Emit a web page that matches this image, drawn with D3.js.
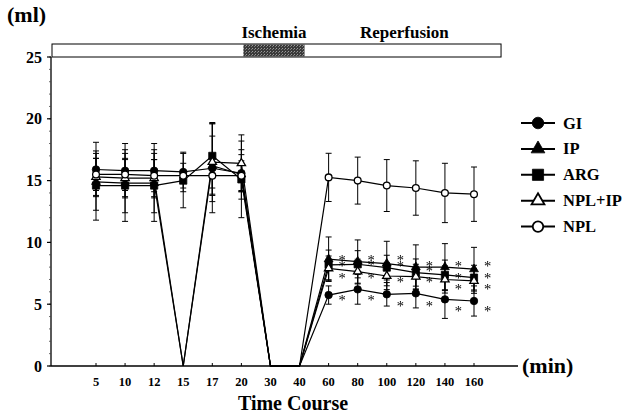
<!DOCTYPE html>
<html>
<head>
<meta charset="utf-8">
<script src="https://cdn.jsdelivr.net/npm/d3@7"></script>
<style>
  html, body { margin: 0; padding: 0; background: #fff; }
  svg { display: block; }
  text { font-family: "Liberation Serif", "Times New Roman", serif; fill: #000; }
  .bold { font-weight: bold; }
</style>
</head>
<body>
<svg id="chart" width="626" height="414"></svg>
<script>
// time points (min) and y ticks
const times = ['5', '10', '12', '15', '17', '20', '30', '40', '60', '80', '100', '120', '140', '160']
const yTicks = [0, 5, 10, 15, 20, 25]

// series: means and SD (0 = no measurement, line drops to zero)
const seriesNames = ['GI', 'IP', 'ARG', 'NPL+IP', 'NPL']
const giMean    = [15.9, 15.8, 15.8, 15.7, 16.0, 15.6, 0, 0, 5.74, 6.2, 5.8, 5.88, 5.39, 5.26]
const giSd      = [2.2, 2.2, 2.2, 1.6, 3.6, 1.5, 0, 0, 0.74, 1.2, 0.95, 1.18, 1.54, 1.22]
const ipMean    = [14.9, 14.8, 14.8, 0, 16.2, 15.5, 0, 0, 8.64, 8.45, 8.29, 8.0, 8.0, 7.83]
const ipSd      = [2.3, 2.4, 2.4, 0, 2.4, 2.0, 0, 0, 1.8, 1.75, 1.8, 1.8, 1.9, 1.77]
const argMean   = [14.6, 14.6, 14.6, 15.0, 17.0, 15.1, 0, 0, 8.18, 8.23, 7.96, 7.56, 7.37, 7.15]
const argSd     = [2.8, 2.9, 2.9, 2.2, 2.6, 3.1, 0, 0, 1.2, 1.1, 1.0, 1.1, 1.2, 1.0]
const nplIpMean = [15.3, 15.2, 15.2, 0, 16.5, 16.4, 0, 0, 7.9, 7.64, 7.28, 7.23, 7.0, 6.88]
const nplIpSd   = [1.5, 1.5, 1.5, 0, 3.2, 2.3, 0, 0, 1.0, 1.0, 1.1, 1.0, 1.1, 1.0]
const nplMean   = [15.5, 15.5, 15.4, 15.4, 15.4, 15.4, 0, 0, 15.26, 15.0, 14.6, 14.4, 14.0, 13.9]
const nplSd     = [1.3, 1.3, 1.3, 1.0, 1.5, 1.2, 0, 0, 1.95, 1.9, 2.1, 2.2, 2.4, 2.2]

// significance marks (*) next to each reperfusion time point
const starTimes  = ['60', '80', '100', '120', '140', '160']
const starLevels = [
    [8.72, 8.23, 7.28, 5.47],
    [8.72, 8.3, 7.28, 5.47],
    [8.72, 8.29, 6.93, 5.04],
    [8.29, 7.83, 6.93, 5.04],
    [8.23, 7.28, 6.39, 4.58],
    [8.23, 7.28, 6.39, 4.58]
]

const phaseLabels = ['Ischemia', 'Reperfusion']

const series = [
    { name: seriesNames[0], mean: giMean, sd: giSd, shape: d3.symbolCircle, fill: '#000' },
    { name: seriesNames[1], mean: ipMean, sd: ipSd, shape: d3.symbolTriangle, fill: '#000' },
    { name: seriesNames[2], mean: argMean, sd: argSd, shape: d3.symbolSquare, fill: '#000' },
    { name: seriesNames[3], mean: nplIpMean, sd: nplIpSd, shape: d3.symbolTriangle, fill: '#fff' },
    { name: seriesNames[4], mean: nplMean, sd: nplSd, shape: d3.symbolCircle, fill: '#fff' }
]

const markSize = s => s.shape === d3.symbolCircle ? (s.fill === '#fff' ? 36 : 44)
    : s.shape === d3.symbolSquare ? 52 : (s.fill === '#fff' ? 30 : 34)

const svg = d3.select('#chart')

const axisLeft = 51
const axisRight = 518

const x = d3.scalePoint().domain(times).range([96, 474])
const y = d3.scaleLinear().domain([0, 25]).range([366, 57])

// top phase bar
const step = x.step()
const barRight = x('160') + step * 0.93
svg.append('rect')
    .attr('x', axisLeft + 1).attr('y', y(25) - 13)
    .attr('width', barRight - axisLeft - 1).attr('height', 13)
    .attr('fill', '#fff').attr('stroke', '#000').attr('stroke-width', 1)

const defs = svg.append('defs')
const pat = defs.append('pattern')
    .attr('id', 'dither').attr('width', 3).attr('height', 3)
    .attr('patternUnits', 'userSpaceOnUse')
pat.append('rect').attr('width', 3).attr('height', 3).attr('fill', '#3a3a3a')
pat.append('rect').attr('x', 0).attr('y', 0).attr('width', 1).attr('height', 1).attr('fill', '#9a9a9a')
pat.append('rect').attr('x', 2).attr('y', 1).attr('width', 1).attr('height', 1).attr('fill', '#7a7a7a')

// plain offscreen filter, keeps the small asterisks grey-scale
defs.append('filter').attr('id', 'flat')
    .append('feOffset').attr('dx', 0).attr('dy', 0)

const ischL = x('20') + 2
const ischR = x('40') + 5
svg.append('rect')
    .attr('x', ischL).attr('y', y(25) - 12.5)
    .attr('width', ischR - ischL).attr('height', 12)
    .attr('fill', 'url(#dither)')

svg.append('text').attr('class', 'bold')
    .attr('x', (ischL + ischR) / 2).attr('y', 38)
    .attr('text-anchor', 'middle').style('font-size', '17px')
    .text(phaseLabels[0])

svg.append('text').attr('class', 'bold')
    .attr('x', (x('100') + x('120')) / 2 + 3).attr('y', 38)
    .attr('text-anchor', 'middle').style('font-size', '17px')
    .text(phaseLabels[1])

// axes
svg.append('line')
    .attr('x1', axisLeft).attr('x2', axisLeft)
    .attr('y1', y(25)).attr('y2', y(0))
    .attr('stroke', '#000').attr('stroke-width', 1.3)

svg.append('line')
    .attr('x1', axisLeft).attr('x2', axisRight)
    .attr('y1', y(0)).attr('y2', y(0))
    .attr('stroke', '#000').attr('stroke-width', 1.3)

svg.selectAll('.ymin')
    .data(d3.range(0, 25.01, 1))
    .enter()
    .append('line')
    .attr('x1', axisLeft - 2).attr('x2', axisLeft)
    .attr('y1', d => y(d)).attr('y2', d => y(d))
    .attr('stroke', '#444').attr('stroke-width', 0.8)

svg.selectAll('.ymaj')
    .data(yTicks)
    .enter()
    .append('line')
    .attr('x1', axisLeft - 4).attr('x2', axisLeft)
    .attr('y1', d => y(d)).attr('y2', d => y(d))
    .attr('stroke', '#000').attr('stroke-width', 1.2)

svg.selectAll('.ylab')
    .data(yTicks)
    .enter()
    .append('text').attr('class', 'bold')
    .attr('x', 42).attr('y', d => y(d) + 5.5)
    .attr('text-anchor', 'end').style('font-size', '16px')
    .text(d => d)

svg.selectAll('.xtick')
    .data(times)
    .enter()
    .append('line')
    .attr('x1', d => x(d)).attr('x2', d => x(d))
    .attr('y1', y(0) - 3).attr('y2', y(0))
    .attr('stroke', '#000').attr('stroke-width', 1)

svg.selectAll('.xlab')
    .data(times)
    .enter()
    .append('text').attr('class', 'bold')
    .attr('x', d => x(d)).attr('y', 386)
    .attr('text-anchor', 'middle').style('font-size', '12.5px')
    .text(d => d)

svg.append('text').attr('class', 'bold')
    .attr('x', 7).attr('y', 22).style('font-size', '22px')
    .text('(ml)')

svg.append('text').attr('class', 'bold')
    .attr('x', 522).attr('y', 373).style('font-size', '22px')
    .text('(min)')

svg.append('text').attr('class', 'bold')
    .attr('x', 293).attr('y', 410)
    .attr('text-anchor', 'middle').style('font-size', '20px')
    .text('Time Course')

// connecting lines
const line = d3.line()
    .x((d, i) => x(times[i]))
    .y(d => y(d))

series.forEach(s => {
    svg.append('path')
        .attr('d', line(s.mean))
        .attr('fill', 'none')
        .attr('stroke', '#000')
        .attr('stroke-width', 1.2)
})

// error bars
series.forEach(s => {
    const pts = s.mean.map((m, i) => ({ t: times[i], m: m, sd: s.sd[i] })).filter(p => p.m > 0)
    const g = svg.append('g').attr('stroke', '#000').attr('stroke-width', 1)
    pts.forEach(p => {
        const cx = x(p.t)
        g.append('line')
            .attr('x1', cx).attr('x2', cx)
            .attr('y1', y(p.m + p.sd)).attr('y2', y(p.m - p.sd))
        ;[p.m + p.sd, p.m - p.sd].forEach(v => {
            g.append('line')
                .attr('x1', cx - 3).attr('x2', cx + 3)
                .attr('y1', y(v)).attr('y2', y(v))
        })
    })
})

// markers
series.forEach(s => {
    const sym = d3.symbol().type(s.shape).size(markSize(s))
    const pts = s.mean.map((m, i) => ({ t: times[i], m: m })).filter(p => p.m > 0)
    svg.selectAll(null)
        .data(pts)
        .enter()
        .append('path')
        .attr('d', sym)
        .attr('transform', p => `translate(${x(p.t)},${y(p.m)})`)
        .attr('fill', s.fill)
        .attr('stroke', '#000')
        .attr('stroke-width', s.fill === '#fff' ? 1.3 : 0.8)
})

// asterisks
const stars = svg.append('g').attr('filter', 'url(#flat)')
starTimes.forEach((t, i) => {
    stars.selectAll(null)
        .data(starLevels[i])
        .enter()
        .append('text')
        .attr('x', x(t) + 13.5)
        .attr('y', v => y(v) + 7)
        .attr('text-anchor', 'middle')
        .style('font-size', '14.5px')
        .style('fill', '#000')
        .text('*')
})

// legend
const legend = svg.append('g')
series.forEach((s, i) => {
    const ly = 123 + i * 25.9
    legend.append('line')
        .attr('x1', 521).attr('x2', 555)
        .attr('y1', ly).attr('y2', ly)
        .attr('stroke', '#000').attr('stroke-width', 2)
    legend.append('path')
        .attr('d', d3.symbol().type(s.shape).size(markSize(s) * 2.4)())
        .attr('transform', `translate(538,${ly})`)
        .attr('fill', s.fill)
        .attr('stroke', '#000')
        .attr('stroke-width', s.fill === '#fff' ? 1.8 : 0.8)
    legend.append('text').attr('class', 'bold')
        .attr('x', 563).attr('y', ly + 5.5)
        .style('font-size', '16.5px')
        .text(s.name)
})
</script>
</body>
</html>
